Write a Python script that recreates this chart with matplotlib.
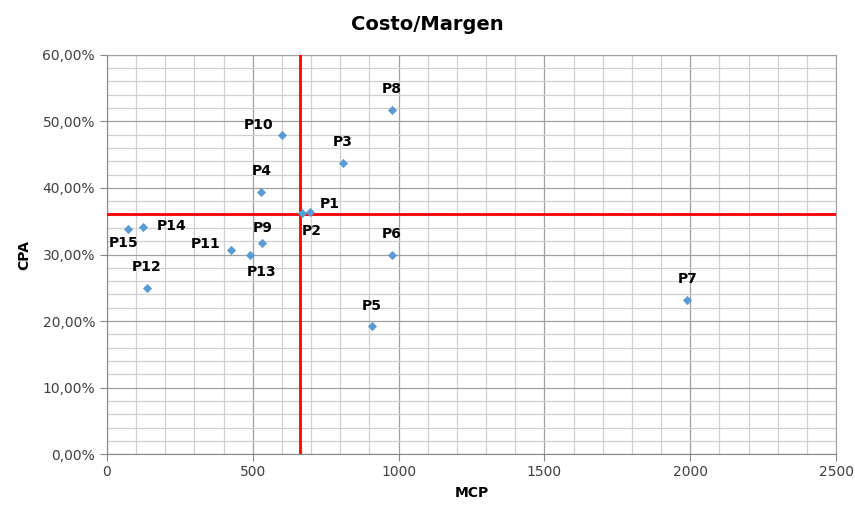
import matplotlib.pyplot as plt
import numpy as np
from matplotlib.ticker import MultipleLocator, FuncFormatter

# data
labels = ["P1", "P2", "P3", "P4", "P5", "P6", "P7", "P8",
          "P9", "P10", "P11", "P12", "P13", "P14", "P15"]
mcp = [697, 670, 810, 530, 909, 978, 1990, 978,
       533, 602, 424, 137, 489, 123, 72]
cpa = [0.364, 0.362, 0.438, 0.394, 0.192, 0.299, 0.232, 0.517,
       0.317, 0.480, 0.307, 0.250, 0.299, 0.341, 0.338]
cpa_ref = 0.361

# label offsets in points (dx, dy) relative to each point
offsets = {
    "P1": (14, 6), "P2": (7, -13), "P3": (0, 15), "P4": (0, 15),
    "P5": (0, 15), "P6": (0, 15), "P7": (0, 15), "P8": (0, 15),
    "P9": (0, 11), "P10": (-17, 7), "P11": (-18, 4), "P12": (0, 15),
    "P13": (9, -12), "P14": (21, 1), "P15": (-3, -10),
}

fig = plt.figure(figsize=(8.55, 5.08), dpi=100)
ax = fig.add_axes([0.125, 0.106, 0.853, 0.786])

ax.scatter(mcp, cpa, marker="D", s=22, color="#5B9BD5", zorder=4, linewidths=0)

for lab, x, y in zip(labels, mcp, cpa):
    dx, dy = offsets[lab]
    ax.annotate(lab, (x, y), xytext=(dx, dy), textcoords="offset points",
                ha="center", va="center", fontsize=10, fontweight="bold",
                zorder=5)

# reference lines: mean MCP and fixed CPA threshold
ax.axvline(np.mean(mcp), color="#FF0000", lw=2, zorder=3)
ax.axhline(cpa_ref, color="#FF0000", lw=2, zorder=3)

ax.set_xlim(0, 2500)
ax.set_ylim(0, 0.60)
ax.xaxis.set_major_locator(MultipleLocator(500))
ax.xaxis.set_minor_locator(MultipleLocator(100))
ax.yaxis.set_major_locator(MultipleLocator(0.10))
ax.yaxis.set_minor_locator(MultipleLocator(0.02))
ax.yaxis.set_major_formatter(FuncFormatter(lambda v, p: f"{v*100:.2f}%".replace(".", ",")))

ax.grid(which="major", color="#A0A0A0", lw=0.9)
ax.grid(which="minor", color="#D0D0D0", lw=0.9)
ax.set_axisbelow(True)
for s in ["top", "right"]:
    ax.spines[s].set_color("#A0A0A0")
for s in ["left", "bottom"]:
    ax.spines[s].set_color("#868686")
ax.tick_params(which="major", length=5, color="#868686", labelsize=10, labelcolor="#404040")
ax.tick_params(which="minor", length=0)
ax.tick_params(axis="x", pad=3)

ax.set_xlabel("MCP", fontsize=10, fontweight="bold", labelpad=5)
ax.set_ylabel("CPA", fontsize=10, fontweight="bold", labelpad=8)
fig.suptitle("Costo/Margen", fontsize=14, fontweight="bold", y=0.97)

fig.savefig("out.png", dpi=100)
